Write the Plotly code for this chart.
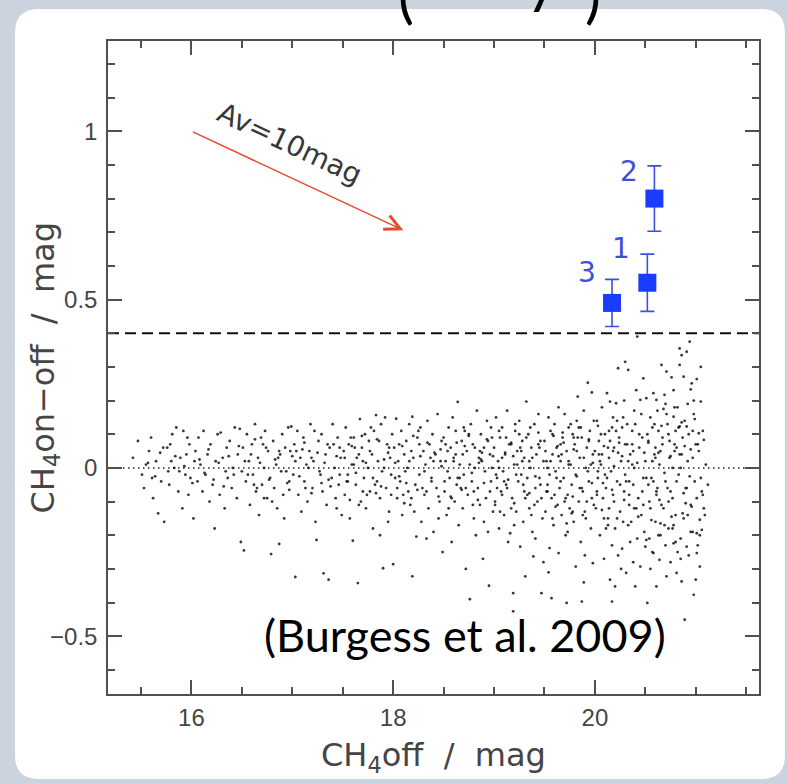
import plotly.graph_objects as go

# ------------------------------------------------------------------ data
# field stars: CH4off magnitude and CH4on-off colour
STAR_MAG = [
    # 15.4 - 16.0
    15.42, 15.47, 15.51, 15.55, 15.58, 15.62, 15.65, 15.67, 15.70, 15.73,
    15.76, 15.78, 15.81, 15.83, 15.85, 15.87, 15.89, 15.91, 15.92, 15.94,
    15.95, 15.97, 15.98, 15.99, 15.53, 15.60, 15.72, 15.80, 15.88, 15.96,
    # 16.0 - 16.5
    16.02, 16.04, 16.06, 16.07, 16.09, 16.11, 16.12, 16.14, 16.16, 16.18,
    16.19, 16.21, 16.23, 16.24, 16.26, 16.28, 16.29, 16.31, 16.33, 16.35,
    16.36, 16.38, 16.40, 16.41, 16.43, 16.45, 16.46, 16.48, 16.49, 16.50,
    # 16.5 - 17.0
    16.51, 16.52, 16.54, 16.55, 16.57, 16.58, 16.60, 16.61, 16.63, 16.64,
    16.66, 16.67, 16.69, 16.70, 16.72, 16.73, 16.75, 16.76, 16.78, 16.79,
    16.81, 16.82, 16.84, 16.85, 16.87, 16.88, 16.90, 16.91, 16.93, 16.94,
    16.96, 16.97, 16.99, 16.53, 16.62, 16.71, 16.80, 16.86, 16.92, 16.98,
    # 17.0 - 17.5
    17.01, 17.02, 17.03, 17.05, 17.06, 17.08, 17.09, 17.11, 17.12, 17.14,
    17.15, 17.17, 17.18, 17.20, 17.21, 17.23, 17.24, 17.26, 17.27, 17.29,
    17.30, 17.31, 17.33, 17.34, 17.36, 17.37, 17.39, 17.40, 17.42, 17.43,
    17.45, 17.46, 17.48, 17.49, 17.04, 17.13, 17.22, 17.28, 17.35, 17.44,
    # 17.5 - 18.0
    17.51, 17.52, 17.53, 17.55, 17.56, 17.57, 17.59, 17.60, 17.61, 17.63,
    17.64, 17.65, 17.67, 17.68, 17.69, 17.71, 17.72, 17.73, 17.75, 17.76,
    17.77, 17.79, 17.80, 17.81, 17.83, 17.84, 17.85, 17.87, 17.88, 17.89,
    17.90, 17.92, 17.93, 17.94, 17.96, 17.97, 17.98, 17.99, 17.54, 17.62,
    17.66, 17.70, 17.74, 17.78, 17.82, 17.86, 17.91, 17.95, 17.58, 17.87,
    # 18.0 - 18.5
    18.00, 18.01, 18.03, 18.04, 18.05, 18.07, 18.08, 18.09, 18.11, 18.12,
    18.13, 18.15, 18.16, 18.17, 18.19, 18.19, 18.20, 18.22, 18.23, 18.24,
    18.26, 18.27, 18.28, 18.30, 18.31, 18.32, 18.34, 18.35, 18.36, 18.38,
    18.39, 18.40, 18.42, 18.43, 18.44, 18.46, 18.47, 18.48, 18.49, 18.02,
    18.06, 18.10, 18.14, 18.18, 18.21, 18.25, 18.29, 18.33, 18.37, 18.45,
    # 18.5 - 19.0
    18.50, 18.51, 18.52, 18.53, 18.55, 18.56, 18.57, 18.58, 18.59, 18.61,
    18.62, 18.63, 18.64, 18.65, 18.66, 18.68, 18.69, 18.70, 18.71, 18.72,
    18.73, 18.74, 18.76, 18.77, 18.78, 18.79, 18.80, 18.81, 18.83, 18.84,
    18.85, 18.86, 18.87, 18.89, 18.90, 18.91, 18.92, 18.93, 18.94, 18.96,
    18.97, 18.98, 18.99, 18.54, 18.60, 18.67, 18.75, 18.82, 18.88, 18.95,
    18.52, 18.58, 18.64, 18.70, 18.76, 18.80, 18.86, 18.90, 18.94, 18.98,
    # 19.0 - 19.5
    19.00, 19.01, 19.02, 19.03, 19.04, 19.05, 19.06, 19.07, 19.08, 19.09,
    19.10, 19.11, 19.12, 19.13, 19.14, 19.16, 19.17, 19.18, 19.19, 19.19,
    19.20, 19.21, 19.22, 19.23, 19.24, 19.25, 19.26, 19.27, 19.28, 19.29,
    19.30, 19.31, 19.32, 19.33, 19.34, 19.35, 19.36, 19.37, 19.38, 19.39,
    19.40, 19.41, 19.42, 19.43, 19.44, 19.45, 19.46, 19.47, 19.48, 19.49,
    19.03, 19.08, 19.12, 19.17, 19.22, 19.27, 19.31, 19.36, 19.41, 19.46,
    19.05, 19.10, 19.15, 19.20, 19.25, 19.30, 19.35, 19.40, 19.45, 19.49,
    # 19.5 - 20.0
    19.50, 19.51, 19.52, 19.53, 19.54, 19.55, 19.55, 19.56, 19.57, 19.57,
    19.58, 19.59, 19.60, 19.61, 19.62, 19.63, 19.64, 19.64, 19.65, 19.66,
    19.67, 19.68, 19.69, 19.70, 19.71, 19.72, 19.72, 19.73, 19.74, 19.75,
    19.76, 19.77, 19.78, 19.79, 19.80, 19.81, 19.81, 19.82, 19.83, 19.84,
    19.85, 19.86, 19.87, 19.87, 19.88, 19.89, 19.90, 19.91, 19.92, 19.93,
    19.94, 19.95, 19.96, 19.97, 19.97, 19.98, 19.98, 19.99, 19.52, 19.58,
    19.62, 19.66, 19.70, 19.74, 19.78, 19.82, 19.86, 19.90, 19.94, 19.96,
    19.53, 19.60, 19.67, 19.73, 19.79, 19.85, 19.91, 19.54, 19.76, 19.89,
    # 20.0 - 20.5
    20.00, 20.01, 20.02, 20.03, 20.04, 20.05, 20.06, 20.07, 20.08, 20.09,
    20.10, 20.11, 20.12, 20.13, 20.14, 20.15, 20.15, 20.16, 20.17, 20.17,
    20.18, 20.19, 20.20, 20.20, 20.21, 20.22, 20.23, 20.24, 20.25, 20.26,
    20.27, 20.28, 20.29, 20.30, 20.30, 20.31, 20.32, 20.33, 20.34, 20.35,
    20.36, 20.37, 20.38, 20.39, 20.40, 20.40, 20.41, 20.42, 20.42, 20.43,
    20.44, 20.45, 20.45, 20.46, 20.47, 20.48, 20.48, 20.49, 20.50, 20.50,
    20.03, 20.07, 20.11, 20.15, 20.19, 20.23, 20.27, 20.31, 20.35, 20.39,
    20.02, 20.06, 20.10, 20.14, 20.18, 20.22, 20.26, 20.30, 20.34, 20.38,
    20.05, 20.09, 20.13, 20.17, 20.21, 20.25, 20.29, 20.33, 20.37, 20.41,
    # 20.5 - 21.15
    20.51, 20.51, 20.52, 20.53, 20.54, 20.55, 20.56, 20.57, 20.58, 20.58,
    20.59, 20.60, 20.61, 20.61, 20.62, 20.63, 20.64, 20.64, 20.65, 20.66,
    20.67, 20.68, 20.69, 20.70, 20.71, 20.71, 20.72, 20.73, 20.74, 20.75,
    20.76, 20.77, 20.78, 20.78, 20.78, 20.79, 20.80, 20.81, 20.82, 20.83,
    20.84, 20.84, 20.84, 20.85, 20.86, 20.86, 20.87, 20.88, 20.88, 20.89,
    20.90, 20.91, 20.91, 20.91, 20.92, 20.93, 20.94, 20.95, 20.95, 20.96,
    20.97, 20.98, 20.98, 20.99, 21.00, 21.01, 21.01, 21.01, 21.02, 21.03,
    21.04, 21.04, 21.05, 21.05, 21.06, 21.07, 21.08, 21.08, 21.10, 21.12,
    20.53, 20.57, 20.61, 20.65, 20.69, 20.73, 20.77, 20.81, 20.85, 20.89,
    20.55, 20.60, 20.66, 20.70, 20.75, 20.80, 20.86, 20.92, 20.97, 21.02,
    # dense core near zero colour
    15.57, 15.64, 15.69, 15.77, 15.84, 15.93, 16.01, 16.08, 16.13, 16.17,
    16.22, 16.27, 16.32, 16.37, 16.42, 16.47, 15.61, 15.79, 16.03, 16.34,
    16.56, 16.59, 16.65, 16.68, 16.74, 16.77, 16.83, 16.89, 16.95, 17.00,
    17.07, 17.10, 17.16, 17.19, 17.25, 17.32, 17.38, 17.41, 17.47, 16.63,
    16.87, 17.03, 17.19, 17.36, 17.44, 16.72, 16.97, 17.12, 17.29, 17.47,
    17.52, 17.55, 17.59, 17.63, 17.66, 17.70, 17.73, 17.77, 17.80, 17.84,
    17.88, 17.91, 17.95, 17.98, 18.02, 18.06, 18.09, 18.13, 18.16, 18.20,
    18.24, 18.27, 18.31, 18.34, 18.38, 18.41, 18.45, 18.48, 17.57, 17.83,
    18.04, 18.18, 18.33, 18.47, 17.69, 17.96, 18.11, 18.26, 18.40, 17.61,
    18.51, 18.54, 18.57, 18.60, 18.63, 18.66, 18.69, 18.72, 18.75, 18.78,
    18.81, 18.84, 18.87, 18.90, 18.93, 18.96, 18.99, 19.02, 19.05, 19.08,
    19.11, 19.14, 19.17, 19.20, 19.23, 19.26, 19.29, 19.32, 19.35, 19.38,
    19.41, 19.44, 19.47, 18.55, 18.62, 18.71, 18.79, 18.88, 18.97, 19.06,
    19.13, 19.21, 19.28, 19.37, 19.44, 18.68, 18.85, 19.01, 19.19, 19.33,
    19.51, 19.53, 19.56, 19.59, 19.61, 19.64, 19.66, 19.69, 19.71, 19.74,
    19.77, 19.79, 19.82, 19.84, 19.87, 19.89, 19.92, 19.94, 19.97, 19.99,
    20.02, 20.04, 20.07, 20.09, 20.12, 20.14, 20.17, 20.19, 20.22, 20.24,
    20.27, 20.29, 20.32, 20.34, 20.37, 20.39, 20.42, 20.44, 20.47, 20.49,
    19.58, 19.68, 19.78, 19.88, 19.98, 20.08, 20.18, 20.28, 20.38, 20.48,
    19.63, 19.72, 19.83, 19.93, 20.03, 20.13, 20.23, 20.33, 20.43, 20.46,
    20.51, 20.53, 20.55, 20.57, 20.59, 20.61, 20.63, 20.65, 20.67, 20.69,
    20.71, 20.73, 20.75, 20.77, 20.79, 20.81, 20.83, 20.85, 20.87, 20.89,
    20.91, 20.93, 20.95, 20.97, 20.99, 21.01, 21.03, 21.05, 21.07, 21.09,
    20.52, 20.56, 20.60, 20.64, 20.68, 20.72, 20.76, 20.80, 20.84, 20.88,
    20.92, 20.96, 21.00, 21.04, 20.54, 20.62, 20.70, 20.78, 20.86, 20.94,
    20.58, 20.66, 20.74, 20.82, 20.90, 20.98, 21.06, 20.63, 20.79, 20.95,
]

STAR_DIFF = [
    # 15.4 - 16.0
    0.03, 0.08, -0.02, 0.01, 0.05, -0.09, 0.02, -0.135, -0.04, -0.16,
    0.06, -0.05, 0.10, 0.00, 0.12, -0.07, 0.03, -0.12, 0.11, -0.02,
    0.04, -0.08, 0.07, -0.03, -0.06, 0.09, 0.06, 0.02, -0.01, 0.09,
    # 16.0 - 16.5
    -0.15, 0.05, -0.04, 0.09, 0.01, -0.07, 0.11, -0.02, 0.04, -0.10,
    0.07, -0.05, -0.18, 0.02, 0.10, -0.08, 0.105, 0.03, -0.12, 0.06,
    -0.03, 0.08, -0.06, 0.00, 0.12, -0.09, 0.04, 0.116, -0.22, -0.01,
    # 16.5 - 17.0
    0.06, -0.245, -0.04, 0.10, 0.02, -0.11, 0.07, -0.02, 0.13, -0.07,
    0.03, -0.14, 0.09, -0.05, 0.00, 0.11, -0.09, 0.05, -0.03, -0.256,
    0.08, -0.06, 0.01, -0.12, -0.226, 0.04, 0.10, -0.08, 0.06, -0.01,
    0.12, -0.04, 0.123, 0.02, -0.05, 0.07, -0.10, 0.03, -0.15, 0.05,
    # 17.0 - 17.5
    -0.02, 0.07, -0.324, 0.11, -0.08, 0.03, -0.13, 0.09, -0.04, 0.01,
    -0.10, 0.05, 0.13, -0.06, 0.02, -0.16, -0.214, 0.08, -0.01, 0.10,
    -0.07, -0.313, 0.04, -0.11, -0.332, 0.06, -0.03, 0.13, 0.00, -0.09,
    0.09, -0.05, 0.03, -0.14, 0.05, -0.06, 0.11, -0.02, 0.07, -0.12,
    # 17.5 - 18.0
    0.05, -0.08, 0.12, -0.02, 0.07, -0.15, 0.01, -0.216, 0.09, -0.05,
    0.03, -0.342, 0.145, -0.10, 0.06, -0.03, 0.10, -0.12, 0.00, 0.08,
    -0.07, 0.04, -0.18, 0.11, 0.157, -0.04, 0.02, -0.09, 0.13, -0.01,
    -0.298, 0.15, -0.06, 0.07, -0.13, 0.03, -0.02, 0.10, -0.04, 0.06,
    -0.11, 0.02, -0.08, 0.12, -0.05, 0.08, 0.00, -0.16, 0.09, -0.20,
    # 18.0 - 18.5
    -0.286, 0.06, 0.146, -0.09, 0.02, -0.04, 0.11, -0.14, 0.04, -0.01,
    0.08, -0.07, 0.13, -0.11, 0.152, -0.322, 0.03, -0.05, -0.204, 0.09,
    -0.02, 0.12, -0.16, 0.05, -0.08, 0.01, 0.14, -0.12, 0.07, -0.03,
    0.10, -0.19, 0.04, -0.06, 0.16, -0.10, 0.02, 0.08, -0.25, -0.03,
    0.07, -0.08, 0.00, 0.05, -0.13, 0.11, -0.06, -0.21, 0.03, -0.15,
    # 18.5 - 19.0
    0.09, -0.07, 0.02, -0.14, 0.12, -0.03, 0.06, -0.22, 0.15, -0.10,
    0.04, -0.05, 0.196, -0.17, 0.01, 0.08, -0.12, -0.02, 0.11, -0.30,
    0.05, -0.08, -0.39, 0.13, -0.04, 0.07, -0.15, 0.00, 0.17, -0.06,
    0.03, -0.11, 0.10, -0.27, 0.06, -0.01, -0.09, 0.14, -0.19, 0.04,
    -0.04, 0.09, -0.13, -0.01, 0.03, -0.06, 0.10, -0.20, 0.02, -0.35,
    0.07, -0.09, -0.03, 0.12, 0.01, -0.07, 0.05, -0.16, 0.08, 0.00,
    # 19.0 - 19.5
    0.06, -0.11, 0.15, -0.03, 0.02, -0.18, 0.09, -0.07, 0.12, -0.01,
    -0.14, 0.04, -0.05, 0.17, -0.22, -0.194, 0.07, -0.09, -0.372, -0.426,
    0.01, 0.11, -0.13, 0.05, -0.04, 0.14, -0.234, -0.02, 0.08, -0.16,
    0.03, -0.322, 0.197, -0.08, 0.10, -0.12, 0.00, 0.06, -0.19, -0.263,
    0.13, -0.06, 0.04, -0.10, 0.16, -0.03, 0.08, -0.372, -0.15, 0.02,
    -0.06, 0.03, 0.09, -0.12, -0.02, 0.05, -0.09, 0.12, -0.21, -0.05,
    0.00, -0.04, 0.07, -0.17, 0.10, -0.07, 0.02, -0.11, 0.06, -0.28,
    # 19.5 - 20.0
    0.08, -0.13, 0.02, -0.05, 0.15, -0.238, -0.02, 0.11, -0.387, -0.09,
    0.04, -0.17, 0.13, -0.01, 0.06, -0.11, -0.253, 0.18, -0.06, 0.02,
    -0.14, 0.09, -0.03, 0.16, -0.20, -0.401, 0.05, -0.08, 0.12, -0.12,
    0.01, -0.05, 0.10, -0.16, 0.07, -0.293, -0.02, 0.14, 0.212, -0.10,
    0.03, -0.22, -0.397, 0.09, -0.07, 0.17, -0.13, 0.00, 0.06, 0.253,
    -0.04, 0.11, -0.18, 0.224, -0.09, -0.283, 0.04, -0.11, -0.07, 0.10,
    -0.03, 0.07, -0.10, 0.02, -0.13, 0.05, 0.12, -0.26, 0.08, 0.01,
    0.00, -0.08, 0.04, -0.19, 0.09, -0.06, -0.15, -0.31, 0.13, -0.34,
    # 20.0 - 20.5
    0.05, -0.12, 0.14, -0.03, 0.08, -0.20, 0.01, 0.18, -0.09, -0.27,
    0.10, -0.06, 0.222, -0.15, 0.03, 0.197, -0.332, -0.01, -0.397, 0.12,
    -0.08, 0.06, -0.352, -0.18, 0.192, -0.04, 0.296, 0.09, -0.13, 0.02,
    -0.24, 0.15, -0.07, 0.315, -0.02, -0.312, 0.07, 0.291, -0.11, 0.04,
    -0.16, 0.11, -0.05, 0.00, -0.352, 0.13, 0.231, 0.39, -0.21, -0.09,
    0.06, 0.202, -0.293, -0.14, 0.09, 0.266, -0.03, -0.19, 0.02, -0.234,
    -0.01, 0.04, -0.18, 0.08, -0.10, -0.26, 0.12, -0.04, -0.22, 0.17,
    -0.07, 0.10, -0.02, -0.12, 0.05, 0.14, -0.30, 0.07, -0.08, -0.28,
    0.02, -0.15, 0.06, -0.23, 0.11, -0.05, 0.20, -0.17, 0.01, -0.12,
    # 20.5 - 21.15
    0.207, -0.214, -0.401, 0.08, -0.10, 0.15, -0.03, -0.25, 0.222, -0.253,
    0.04, -0.16, 0.202, -0.352, -0.06, 0.11, -0.273, 0.01, -0.20, 0.306,
    0.07, -0.12, 0.217, -0.04, 0.286, -0.322, 0.13, -0.18, 0.03, -0.28,
    0.269, -0.09, 0.231, 0.152, -0.224, 0.05, -0.14, -0.312, 0.18, -0.02,
    0.355, 0.306, 0.123, -0.21, 0.335, -0.337, 0.09, 0.271, -0.15, -0.451,
    -0.06, 0.345, 0.123, -0.234, 0.02, -0.26, 0.375, 0.233, -0.11, 0.251,
    -0.19, -0.377, 0.16, -0.04, -0.332, 0.264, -0.253, -0.194, 0.07, 0.103,
    -0.293, -0.154, 0.197, 0.30, -0.184, -0.08, 0.083, -0.12, 0.01, -0.05,
    -0.05, 0.12, -0.08, 0.05, -0.17, 0.10, 0.00, 0.06, -0.27, 0.14,
    -0.30, 0.03, -0.11, 0.19, -0.07, -0.22, 0.04, -0.14, 0.11, -0.23,
    # dense core near zero colour
    0.015, -0.025, 0.045, -0.01, 0.035, 0.005, -0.045, 0.025, -0.015, 0.055,
    -0.035, 0.015, -0.055, 0.035, -0.02, 0.065, -0.03, 0.07, 0.02, -0.01,
    -0.02, 0.04, -0.06, 0.015, 0.06, -0.035, 0.025, -0.01, -0.045, 0.035,
    -0.025, 0.055, 0.00, -0.075, 0.045, 0.015, -0.055, 0.07, -0.02, 0.085,
    0.05, 0.02, 0.03, -0.035, 0.035, -0.09, -0.065, 0.075, -0.045, 0.06,
    0.03, -0.04, 0.065, -0.015, 0.04, -0.07, 0.015, 0.05, -0.03, 0.085,
    -0.055, 0.025, 0.045, -0.08, 0.015, -0.025, 0.065, -0.045, 0.02, 0.095,
    -0.065, 0.035, -0.01, 0.075, -0.04, 0.045, -0.085, 0.005, -0.095, -0.075,
    -0.06, -0.09, -0.07, 0.055, 0.095, 0.06, -0.105, 0.07, 0.02, 0.01,
    -0.04, 0.05, -0.085, 0.02, 0.075, -0.03, 0.04, -0.06, 0.095, -0.015,
    0.06, -0.095, 0.025, -0.045, 0.085, -0.07, 0.035, -0.02, 0.11, -0.08,
    0.045, -0.035, 0.075, -0.105, 0.01, 0.06, -0.05, 0.09, -0.075, 0.03,
    -0.025, 0.07, -0.09, -0.12, 0.11, 0.065, -0.11, 0.045, 0.12, -0.13,
    -0.06, 0.13, 0.02, -0.14, 0.105, -0.065, 0.015, -0.10, 0.035, -0.03,
    0.05, -0.07, 0.02, 0.095, -0.115, 0.035, -0.04, 0.075, -0.09, 0.01,
    -0.135, 0.055, -0.025, 0.12, -0.06, 0.03, -0.10, 0.085, -0.045, 0.14,
    -0.08, 0.04, -0.125, 0.065, -0.03, 0.11, -0.065, 0.005, -0.15, 0.075,
    0.035, -0.095, 0.13, -0.04, 0.07, -0.12, 0.015, 0.10, -0.07, 0.045,
    -0.15, 0.105, -0.085, -0.14, 0.015, -0.045, 0.15, -0.16, 0.05, -0.11,
    0.065, -0.165, 0.09, -0.01, 0.125, -0.17, 0.045, 0.02, -0.145, 0.16,
    -0.03, 0.075, -0.12, 0.02, 0.13, -0.07, 0.045, -0.165, 0.09, -0.015,
    0.16, -0.10, 0.035, -0.18, 0.07, -0.04, 0.12, 0.00, -0.135, 0.065,
    -0.06, 0.10, -0.19, 0.03, 0.145, -0.09, 0.05, -0.03, 0.11, -0.14,
    0.10, -0.155, 0.06, -0.095, 0.175, -0.06, -0.145, 0.11, 0.04, -0.075,
    0.19, -0.115, 0.07, -0.20, -0.21, 0.17, -0.23, -0.17, 0.135, -0.025,
    -0.04, 0.125, 0.08, -0.25, -0.105, 0.20, -0.07, -0.20, 0.18, 0.055,
]

# methane-selected candidates
CAND_ID = ["1", "2", "3"]
CAND_MAG = [20.52, 20.59, 20.17]
CAND_DIFF = [0.55, 0.80, 0.49]
CAND_ERR = [0.085, 0.097, 0.07]

CUT_LEVEL = 0.4
ZERO_LEVEL = 0.0

AV_START = (16.0, 1.0)
AV_END = (18.10, 0.706)
AV_LABEL = "Av=10mag"

SOURCE_NOTE = "(Burgess et al. 2009)"
X_TITLE = "CH<sub>4</sub>off\u00a0\u00a0/\u00a0\u00a0mag"
Y_TITLE = "CH<sub>4</sub>on\u2212off\u00a0\u00a0/\u00a0\u00a0mag"

X_RANGE = [15.173, 21.627]
Y_RANGE = [-0.6715, 1.268]

# ------------------------------------------------------------------ layout geometry
W, H = 787, 783
ML, MR, MT, MB = 108, 28, 41, 89
PW = W - ML - MR
PH = H - MT - MB


def pxx(px):
    return (px - ML) / PW


def pxy(py):
    return (H - MB - py) / PH


def rounded_panel(x0, y0, x1, y1, r):
    def P(x, y):
        return f"{pxx(x):.5f},{pxy(y):.5f}"
    return " ".join([
        f"M{P(x0 + r, y0)}", f"L{P(x1 - r, y0)}",
        f"Q{P(x1, y0)} {P(x1, y0 + r)}", f"L{P(x1, y1 - r)}",
        f"Q{P(x1, y1)} {P(x1 - r, y1)}", f"L{P(x0 + r, y1)}",
        f"Q{P(x0, y1)} {P(x0, y1 - r)}", f"L{P(x0, y0 + r)}",
        f"Q{P(x0, y0)} {P(x0 + r, y0)}", "Z",
    ])


INK = "#505050"
TICK_FONT = dict(family="Liberation Sans", size=24, color="#454545")

fig = go.Figure()

fig.add_trace(go.Scatter(
    x=STAR_MAG, y=STAR_DIFF, mode="markers",
    marker=dict(size=2.8, color="rgba(20,20,20,0.85)"),
    hoverinfo="skip", showlegend=False,
))

fig.add_trace(go.Scatter(
    x=CAND_MAG, y=CAND_DIFF, mode="markers",
    marker=dict(symbol="square", size=18, color="#1a3cff"),
    error_y=dict(type="data", array=CAND_ERR, visible=True,
                 color="#3b4fe0", thickness=1.6, width=7),
    showlegend=False,
))

shapes = [
    dict(type="path", xref="paper", yref="paper", layer="below",
         path=rounded_panel(15, 9, 785, 779, 24),
         fillcolor="white", line=dict(width=0)),
    dict(type="line", xref="paper", yref="y", x0=0, x1=1,
         y0=ZERO_LEVEL, y1=ZERO_LEVEL, layer="below",
         line=dict(color="#222", width=1.5, dash="1.5px,3.5px")),
    dict(type="line", xref="paper", yref="y", x0=0, x1=1,
         y0=CUT_LEVEL, y1=CUT_LEVEL, layer="below",
         line=dict(color="#111", width=1.8, dash="11px,6px")),
]

annotations = []
# candidate labels
label_shift = {"1": (-26, 34), "2": (-25, 27), "3": (-25, 30)}
for cid, cx, cy in zip(CAND_ID, CAND_MAG, CAND_DIFF):
    dx, dy = label_shift[cid]
    annotations.append(dict(
        x=cx, y=cy, xref="x", yref="y", text=cid, showarrow=False,
        xshift=dx, yshift=dy,
        font=dict(family="DejaVu Sans", size=28, color="#3f4fd8"),
    ))

# extinction vector
annotations.append(dict(
    x=AV_END[0], y=AV_END[1], ax=AV_START[0], ay=AV_START[1],
    xref="x", yref="y", axref="x", ayref="y", text="",
    showarrow=True, arrowhead=5, arrowsize=2, arrowwidth=1.5,
    arrowcolor="#e8482e", standoff=0,
))
annotations.append(dict(
    x=(AV_START[0] + AV_END[0]) / 2, y=(AV_START[1] + AV_END[1]) / 2,
    xref="x", yref="y", text=AV_LABEL, showarrow=False,
    xshift=-8, yshift=37, textangle=25,
    font=dict(family="DejaVu Sans", size=28, color="#383838"),
))

# axis titles
annotations.append(dict(
    x=0.5, y=pxy(757), xref="paper", yref="paper", text=X_TITLE,
    showarrow=False, xanchor="center", yanchor="middle",
    font=dict(family="DejaVu Sans", size=32, color="#454545"),
))
annotations.append(dict(
    x=pxx(44), y=0.5, xref="paper", yref="paper", text=Y_TITLE,
    showarrow=False, xanchor="center", yanchor="middle", textangle=-90,
    font=dict(family="DejaVu Sans", size=32, color="#454545"),
))

# source note
annotations.append(dict(
    x=pxx(465), y=pxy(635), xref="paper", yref="paper", text=SOURCE_NOTE,
    showarrow=False, xanchor="center", yanchor="middle",
    font=dict(family="Lato", size=45, color="black"),
))

# fragments of the slide heading cut by the top edge
for frag, fx, fy in [("(", 406, -6), ("y", 541, -21), (")", 593, -6)]:
    annotations.append(dict(
        x=pxx(fx), y=pxy(fy), xref="paper", yref="paper", text=frag,
        showarrow=False, xanchor="center", yanchor="middle",
        font=dict(family="Lato", size=60, color="black"),
    ))

axis_common = dict(
    showline=True, linecolor=INK, linewidth=1.5, mirror="allticks",
    ticks="inside", ticklen=14, tickwidth=1.5, tickcolor=INK,
    showgrid=False, zeroline=False, tickfont=TICK_FONT,
)

fig.update_layout(
    width=W, height=H,
    margin=dict(l=ML, r=MR, t=MT, b=MB, pad=0),
    paper_bgcolor="#cbd3df", plot_bgcolor="white",
    xaxis=dict(range=X_RANGE, tick0=16, dtick=2, ticklabelstandoff=1,
               minor=dict(ticks="inside", ticklen=7, dtick=0.5, tick0=16,
                          tickwidth=1.5, tickcolor=INK, showgrid=False),
               **axis_common),
    yaxis=dict(range=Y_RANGE, tick0=0, dtick=0.5, ticklabelstandoff=4,
               minor=dict(ticks="inside", ticklen=7, dtick=0.1, tick0=0,
                          tickwidth=1.5, tickcolor=INK, showgrid=False),
               **axis_common),
    shapes=shapes, annotations=annotations, showlegend=False,
)

fig.write_html("out.html")
